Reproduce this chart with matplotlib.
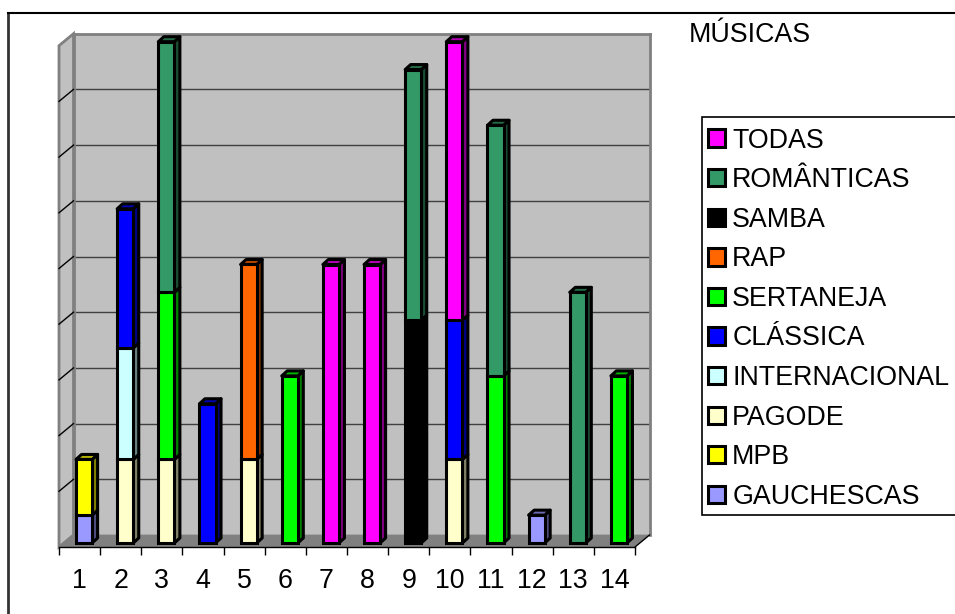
import numpy as np
import matplotlib
matplotlib.use("Agg")
import matplotlib.pyplot as plt
from matplotlib.lines import Line2D
from matplotlib.patches import Patch, Polygon, Rectangle
from matplotlib.colors import to_rgb

plt.rcParams["font.family"] = ["Liberation Sans", "DejaVu Sans"]

W, H = 955, 614
FONT = 19.3

categories = list(range(1, 15))
title = "MÚSICAS"

# Musical genres per respondent, in stacking order from the bottom up
gauchescas    = [1, 0, 0, 0, 0, 0, 0, 0, 0, 0, 0, 1, 0, 0]
mpb           = [2, 0, 0, 0, 0, 0, 0, 0, 0, 0, 0, 0, 0, 0]
pagode        = [0, 3, 3, 0, 3, 0, 0, 0, 0, 3, 0, 0, 0, 0]
internacional = [0, 4, 0, 0, 0, 0, 0, 0, 0, 0, 0, 0, 0, 0]
classica      = [0, 5, 0, 5, 0, 0, 0, 0, 0, 5, 0, 0, 0, 0]
sertaneja     = [0, 0, 6, 0, 0, 6, 0, 0, 0, 0, 6, 0, 0, 6]
rap           = [0, 0, 0, 0, 7, 0, 0, 0, 0, 0, 0, 0, 0, 0]
samba         = [0, 0, 0, 0, 0, 0, 0, 0, 8, 0, 0, 0, 0, 0]
romanticas    = [0, 0, 9, 0, 0, 0, 0, 0, 9, 0, 9, 0, 9, 0]
todas         = [0, 0, 0, 0, 0, 0, 10, 10, 0, 10, 0, 0, 0, 0]

series_names = ["GAUCHESCAS", "MPB", "PAGODE", "INTERNACIONAL", "CLÁSSICA",
                "SERTANEJA", "RAP", "SAMBA", "ROMÂNTICAS", "TODAS"]
series_values = [gauchescas, mpb, pagode, internacional, classica,
                 sertaneja, rap, samba, romanticas, todas]
series_colors = ["#9999FF", "#FFFF00", "#FFFFCC", "#CCFFFF", "#0000FF",
                 "#00FF00", "#FF6600", "#000000", "#339966", "#FF00FF"]

Y_MAX = 18
Y_STEP = 2
BAR_WIDTH = 0.39
EDGE = 2.2


def axes_at(left, top, right, bottom, **kw):
    """Create axes from pixel bounds measured from the top-left corner."""
    return fig.add_axes([left / W, 1 - bottom / H, (right - left) / W, (bottom - top) / H], **kw)


def shade(color, factor):
    return tuple(c * factor for c in to_rgb(color))


fig = plt.figure(figsize=(W / 100, H / 100), dpi=100, facecolor="white")

# Back wall with the horizontal gridlines
back = axes_at(73.5, 33.7, 650, 535, facecolor="#C0C0C0", zorder=1)
back.set_xlim(0.5, 14.5)
back.set_ylim(0, Y_MAX)
back.set_xticks([])
back.set_yticks(np.arange(0, Y_MAX + 1, Y_STEP))
back.tick_params(left=False, labelleft=False)
back.grid(axis="y", color="#404040", lw=1.0)
back.set_axisbelow(True)
for name, spine in back.spines.items():
    spine.set_color("#808080")
    spine.set_linewidth(2.0)
    spine.set_visible(name != "bottom")

# Plane that holds the front faces of the columns
ax = axes_at(63.5, 41.7, 639.5, 543, facecolor="none", zorder=2)
ax.set_xlim(0.5, 14.5)
ax.set_ylim(0, Y_MAX)
ax.axis("off")
px_x = 14 / 576
px_y = Y_MAX / (543 - 41.7)


def shifted(x, y, dx, dy):
    """Data point displaced by a depth offset given in pixels (dy grows upward)."""
    return (x + dx * px_x, y + dy * px_y)


FRONT = (-4.5, -4)
REAR = (10, 8)

# Side wall and floor
wall = [shifted(0.5, 0, *FRONT), shifted(0.5, 0, *REAR),
        shifted(0.5, Y_MAX, *REAR), shifted(0.5, Y_MAX, *FRONT)]
ax.add_patch(Polygon(wall, closed=True, facecolor="#C0C0C0", edgecolor="#808080",
                     lw=2.0, clip_on=False, zorder=1))
floor = [shifted(0.5, 0, *FRONT), shifted(14.5, 0, *FRONT),
         shifted(14.5, 0, *REAR), shifted(0.5, 0, *REAR)]
ax.add_patch(Polygon(floor, closed=True, facecolor="#808080", edgecolor="none",
                     clip_on=False, zorder=1))
for level in np.arange(Y_STEP, Y_MAX, Y_STEP):
    a, b = shifted(0.5, level, *FRONT), shifted(0.5, level, *REAR)
    ax.plot([a[0], b[0]], [a[1], b[1]], color="black", lw=1.0, clip_on=False, zorder=2)

# Stacked columns: front faces come from bar(), sides and caps follow the same values
BAR_DX, BAR_DY = 5.5, 5
x_pos = np.array(categories, dtype=float)
bottom = np.zeros(len(categories))
tops = np.array(series_values).sum(axis=0)
for values, color in zip(series_values, series_colors):
    values = np.array(values, dtype=float)
    shown = values > 0
    ax.bar(x_pos[shown], values[shown], BAR_WIDTH, bottom=bottom[shown], color=color,
           edgecolor="black", linewidth=EDGE, clip_on=False, zorder=4)
    for x, v, b in zip(x_pos[shown], values[shown], bottom[shown]):
        r = x + BAR_WIDTH / 2
        side = [(r, b), shifted(r, b, BAR_DX, BAR_DY),
                shifted(r, b + v, BAR_DX, BAR_DY), (r, b + v)]
        ax.add_patch(Polygon(side, closed=True, facecolor=shade(color, 0.5), edgecolor="black",
                             lw=EDGE, joinstyle="round", clip_on=False, zorder=3))
        if b + v == tops[int(x) - 1]:
            l = x - BAR_WIDTH / 2
            cap = [(l, b + v), (r, b + v), shifted(r, b + v, BAR_DX, BAR_DY),
                   shifted(l, b + v, BAR_DX, BAR_DY)]
            ax.add_patch(Polygon(cap, closed=True, facecolor=shade(color, 0.7), edgecolor="black",
                                 lw=EDGE, joinstyle="round", clip_on=False, zorder=3))
    bottom = bottom + values

# Category axis along the front edge of the floor
front = axes_at(59, 45.7, 635, 547, facecolor="none", zorder=3)
front.set_xlim(0.5, 14.5)
front.set_ylim(0, Y_MAX)
front.patch.set_visible(False)
for name, spine in front.spines.items():
    spine.set_visible(name == "bottom")
front.spines["bottom"].set_linewidth(1.0)
front.set_yticks([])
front.set_xticks(categories)
front.set_xticklabels([str(c) for c in categories], fontsize=FONT)
front.set_xticks(np.arange(0.5, 15), minor=True)
front.tick_params(axis="x", which="major", length=0, pad=15)
front.tick_params(axis="x", which="minor", length=5.5, width=1.0)
a, b = shifted(14.5, 0, *FRONT), shifted(14.5, 0, *REAR)
ax.plot([a[0], b[0]], [a[1], b[1]], color="black", lw=1.0, clip_on=False, zorder=2)

# Chart frame (open on the right and bottom) and title
fig.add_artist(Line2D([7.5 / W, 7.5 / W], [0, 1 - 12.5 / H], color="#333333", lw=2.0))
fig.add_artist(Line2D([7.5 / W, 1], [1 - 12.5 / H, 1 - 12.5 / H], color="black", lw=1.5))
fig.text(689 / W, 1 - 35 / H, title, fontsize=FONT, ha="left", va="center", color="black")

# Legend box runs past the right edge of the figure
fig.add_artist(Rectangle((701.5 / W, 1 - 515 / H), 300 / W, 398 / H, transform=fig.transFigure,
                         facecolor="white", edgecolor="black", lw=1.2))
handles = [Patch(facecolor=c, edgecolor="black", linewidth=EDGE, label=n)
           for n, c in zip(series_names[::-1], series_colors[::-1])]
fig.legend(handles=handles, loc="upper left",
           bbox_to_anchor=(708 / W, 1 - 127.5 / H), bbox_transform=fig.transFigure,
           fontsize=FONT, frameon=False, borderaxespad=0, borderpad=0, labelspacing=0.507,
           handlelength=0.62, handleheight=0.62, handletextpad=0.28)

fig.savefig("out.png", dpi=100)
